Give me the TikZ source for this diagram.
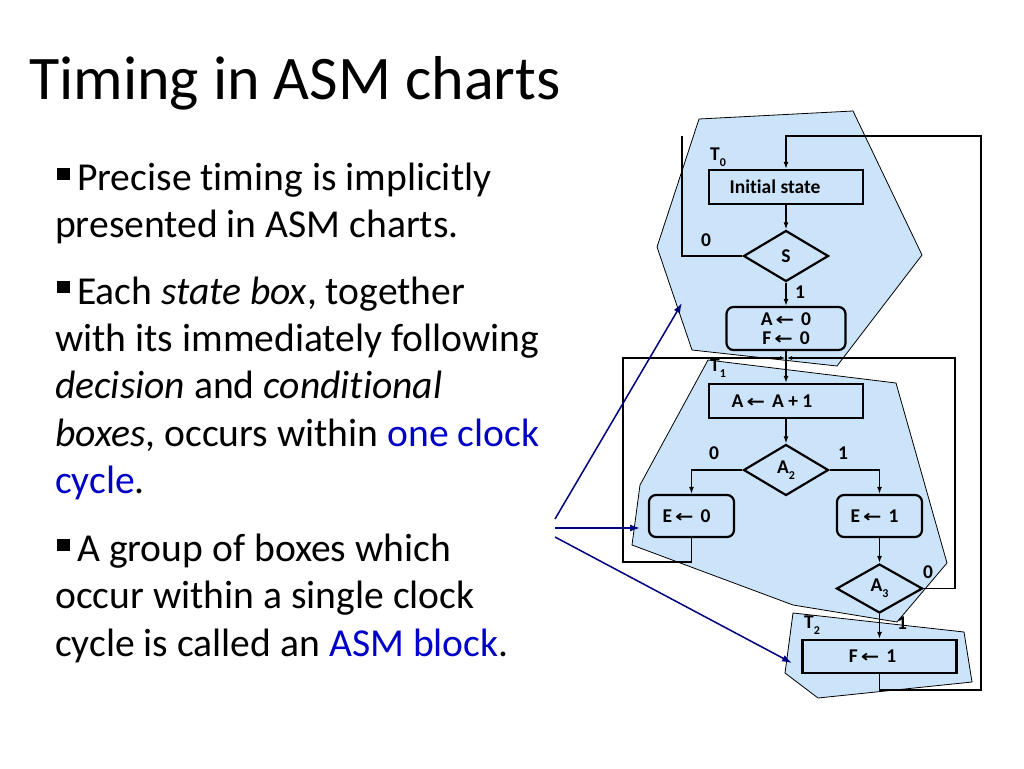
\documentclass[tikz,border=0pt]{standalone}
\usepackage{fontspec}
\usepackage{graphicx}
\setmainfont{Carlito}[Ligatures=NoCommon]
\newfontfamily\arrfont{DejaVu Sans}
\usetikzlibrary{shapes.geometric,arrows.meta}
\definecolor{blkfill}{RGB}{204,228,250}
\definecolor{navyc}{RGB}{0,0,128}
\definecolor{txtblue}{RGB}{0,0,200}
\newcommand\mysub[1]{\raisebox{-0.3em}{\fontsize{12}{12}\selectfont #1}}
\newcommand\la{\hspace{3pt}\scalebox{1.3}[1]{\arrfont\fontsize{17}{17}\selectfont ←}\hspace{7pt}}
\newcommand\dgfont{\fontsize{19.5}{19}\selectfont\bfseries}
\newcommand\bodyfont{\fontsize{39.6}{47}\selectfont}
\newcommand\pad[1]{\hspace{#1}\null}
\begin{document}
\begin{tikzpicture}[x=1pt,y=-1pt,
  blockpoly/.style={fill=blkfill,draw=black,line width=0.8pt,line join=miter},
  sbox/.style={draw,line width=2.2pt,inner sep=0pt,font=\dgfont},
  cbox/.style={sbox,rounded corners=7pt,align=center},
  dbox/.style={draw,diamond,line width=2.2pt,inner sep=0pt,font=\dgfont},
  con/.style={line width=1.5pt},
  arr/.style={-{Latex[length=7pt,width=5pt]}},
  smallarr/.style={-{Latex[length=5pt,width=4pt]}},
  lbl/.style={font=\dgfont,inner sep=0pt},
  body/.style={font=\bodyfont,anchor=base west,inner sep=0pt},
  bull/.style={fill=black},
  navyarr/.style={draw=navyc,line width=1.5pt,-{Latex[length=10pt,width=7pt]}}]
\useasboundingbox (0,0) rectangle (1024,768);
\fill[white] (0,0) rectangle (1024,768);

% title
\node[font=\fontsize{62}{70}\selectfont,anchor=base west,inner sep=0pt] (title) at (29,99) {Timing in ASM charts};

% bullets and text
\fill[bull] (57,168) rectangle (70,180);
\node[body] (b1a) at (77,190) {Precise timing is implicitly};
\node[body] (b1b) at (55,237) {presented in ASM charts.};
\fill[bull] (57,281) rectangle (70,293);
\node[body] (b2a) at (77,304) {Each \textit{state box}, together};
\node[body] (b2b) at (55,351) {with its immediately following};
\node[body] (b2c) at (55,398) {\textit{decision} and \textit{conditional}};
\node[body] (b2d) at (55,446) {\textit{boxes}, occurs within \textcolor{txtblue}{one clock}};
\node[body] (b2e) at (55,493) {\textcolor{txtblue}{cycle}.};
\fill[bull] (57,539) rectangle (70,551);
\node[body] (b3a) at (77,561) {A group of boxes which};
\node[body] (b3b) at (55,608) {occur within a single clock};
\node[body] (b3c) at (55,656) {cycle is called an \textcolor{txtblue}{ASM block}.};

% ASM blocks
\draw[blockpoly] (699,119) -- (853,111) -- (922,255) -- (837,366) -- (692,350) -- (657,247) -- cycle;
\draw[blockpoly] (708,360) -- (896,383) -- (947,563) -- (897,622) -- (793,605) -- (632,545) -- (640,485) -- cycle;
\draw[blockpoly] (793,613) -- (964,632) -- (972,682) -- (818,698) -- (785,673) -- cycle;

% chart nodes
\node[sbox,minimum width=154pt,minimum height=34pt] (init) at (786,187) {Initial state\pad{22pt}};
\node[dbox,minimum width=85pt,minimum height=51pt] (S) at (786,256) {S};
\node[cbox,minimum width=119pt,minimum height=43pt] (a0) at (786,328.5) {A\la 0\\F\la 0};
\node[sbox,minimum width=154pt,minimum height=34pt] (inc) at (786,401) {A\la A + 1\pad{28pt}};
\node[dbox,minimum width=85pt,minimum height=51pt] (A2) at (786,470) {A\mysub{2}};
\node[cbox,minimum width=85pt,minimum height=42pt] (e0) at (691.5,516) {E\la 0\pad{10pt}};
\node[cbox,minimum width=85pt,minimum height=42pt] (e1) at (879.5,516) {E\la 1\pad{10pt}};
\node[dbox,minimum width=86pt,minimum height=49pt] (A3) at (879.5,588.5) {A\mysub{3}};
\node[sbox,minimum width=154pt,minimum height=33pt] (f1) at (879.5,656.5) {F\la 1\pad{14pt}};

% labels
\node[lbl] (t0) at (718,157) {T\mysub{0}};
\node[lbl] (t1) at (718,368) {T\mysub{1}};
\node[lbl] (t2) at (812,625) {T\mysub{2}};
\node[lbl] (ls0) at (706,240) {0};
\node[lbl] (ls1) at (800,292) {1};
\node[lbl] (la20) at (714,453) {0};
\node[lbl] (la21) at (843,453) {1};
\node[lbl] (la30) at (928,572) {0};
\node[lbl] (la31) at (902,623) {1};

% loop corners
\coordinate (tl) at (682,136);
\coordinate (tr) at (981,136);
\coordinate (br) at (981,690);
\coordinate (ll) at (623,562);
\coordinate (lt) at (623,358);
\coordinate (rt) at (955,358);

% connectors
\draw[con,arr] (f1.south) |- (br) -- (tr) -| (init.north);
\draw[con] (S.west) -| (tl);
\draw[con,arr] (init.south) -- (S.north);
\draw[con,arr] (S.south) -- (a0.north);
\draw[con,arr] (a0.south) -- (inc.north);
\draw[con,smallarr] (e0.south) |- (ll) -- (lt) -- ([xshift=-1pt]lt -| a0.south);
\draw[con,smallarr] (A3.east) -| (rt) -- ([xshift=1pt]rt -| a0.south);
\draw[con,arr] (inc.south) -- (A2.north);
\draw[con,arr] (A2.west) -| (e0.north);
\draw[con,arr] (A2.east) -| (e1.north);
\draw[con,arr] (e1.south) -- (A3.north);
\draw[con,arr] (A3.south) -- (f1.north);

% pointer arrows
\coordinate (s1) at (555,519);
\coordinate (s2) at (555,528);
\coordinate (s3) at (555,537);
\coordinate (p1) at (682,303);
\coordinate (p2) at (640,528);
\coordinate (p3) at (792,663);
\draw[navyarr] (s1) -- (p1);
\draw[navyarr] (s2) -- (p2);
\draw[navyarr] (s3) -- (p3);
\end{tikzpicture}
\end{document}
